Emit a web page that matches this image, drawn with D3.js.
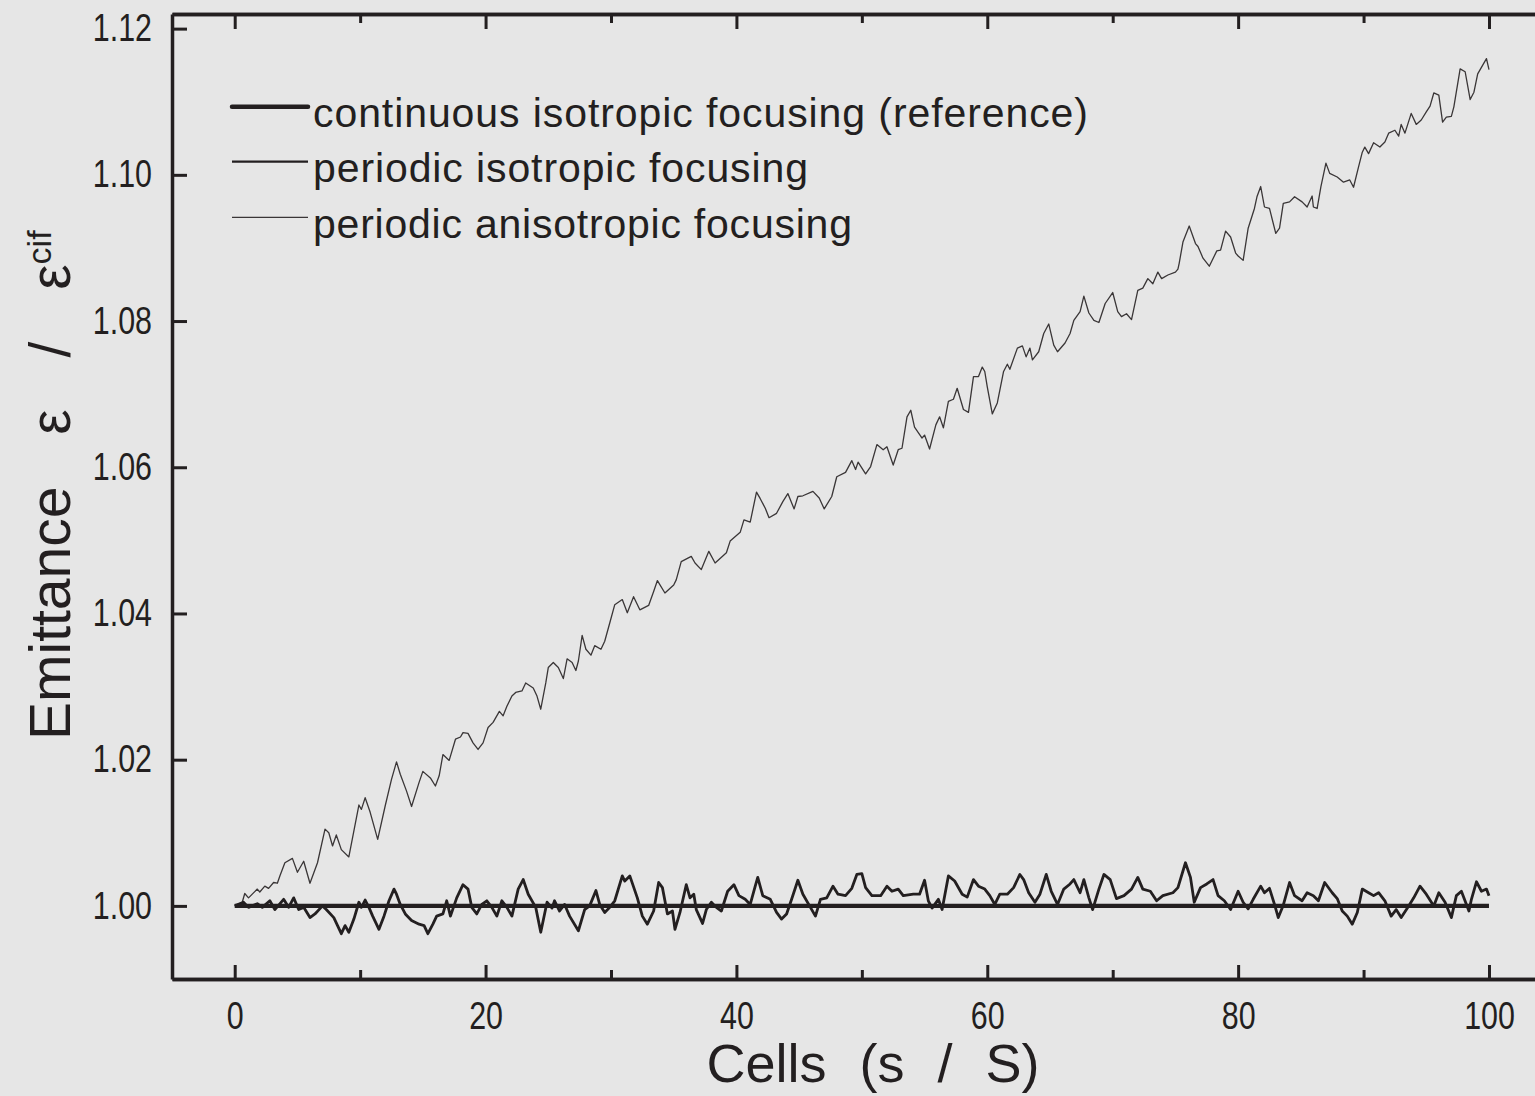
<!DOCTYPE html>
<html>
  <head>
    <meta charset="utf-8" />
    <script type="text/javascript" src="https://cdn.jsdelivr.net/npm/d3@7"></script>
    <style>
      body { margin: 0; background: #e6e6e6; }
      svg { display: block; }
      text { font-family: "Liberation Sans", Arial, sans-serif; fill: #231f20; }
    </style>
  </head>
  <body>
    <script type="text/javascript">
      // reference run: continuous isotropic focusing
      const refCells = [0, 100];
      const refValues = [1.0, 1.0];

      // periodic isotropic focusing
      const isoCells = [
        0.0, 0.7, 1.1, 1.8, 2.2, 2.8, 3.2, 3.9, 4.3, 4.7, 5.1, 5.5, 6.0, 6.4, 7.0, 7.3, 7.9, 8.5, 8.8, 9.1,
        9.5, 9.9, 10.1, 10.4, 10.7, 11.0, 11.5, 11.9, 12.3, 12.7, 12.9, 13.2, 13.6, 14.1, 14.7, 15.1, 15.4, 15.8, 16.1, 16.6,
        16.9, 17.2, 17.7, 18.2, 18.6, 18.9, 19.3, 19.7, 20.1, 20.5, 20.9, 21.3, 21.7, 22.1, 22.6, 23.0, 23.4, 24.0, 24.4, 24.9,
        25.3, 25.5, 25.9, 26.3, 26.7, 27.4, 27.9, 28.3, 28.8, 29.1, 29.5, 29.9, 30.3, 30.9, 31.1, 31.5, 32.1, 32.5, 32.9, 33.4,
        33.8, 34.1, 34.5, 34.9, 35.1, 35.5, 36.0, 36.3, 36.6, 36.8, 37.3, 37.6, 38.0, 38.4, 38.8, 39.3, 39.8, 40.2, 40.7, 41.1,
        41.5, 41.7, 42.1, 42.7, 43.2, 43.6, 44.0, 44.4, 44.9, 45.3, 45.9, 46.3, 46.7, 47.2, 47.7, 48.1, 48.7, 49.2, 49.6, 50.0,
        50.3, 50.8, 51.5, 52.0, 52.4, 52.9, 53.3, 54.1, 54.6, 55.0, 55.3, 55.6, 56.1, 56.4, 56.9, 57.4, 58.0, 58.4, 58.9, 59.3,
        59.8, 60.2, 60.6, 61.0, 61.6, 62.1, 62.6, 62.9, 63.3, 63.8, 64.2, 64.7, 65.1, 65.6, 66.1, 66.6, 66.9, 67.4, 67.7, 68.1,
        68.4, 68.9, 69.3, 69.8, 70.3, 70.9, 71.5, 72.0, 72.4, 73.0, 73.5, 74.0, 74.8, 75.2, 75.8, 76.2, 76.5, 77.0, 77.5, 78.0,
        78.4, 78.9, 79.4, 80.0, 80.4, 80.8, 81.2, 81.8, 82.1, 82.5, 82.9, 83.2, 83.6, 84.1, 84.5, 85.1, 85.5, 86.0, 86.4, 86.9,
        87.5, 87.9, 88.3, 88.7, 89.1, 89.5, 89.9, 90.4, 90.8, 91.2, 91.7, 92.2, 92.6, 93.0, 93.6, 94.0, 94.5, 95.0, 95.6, 96.0,
        96.5, 97.0, 97.4, 97.8, 98.4, 98.6, 99.0, 99.4, 99.8, 100.0
      ];
      const isoValues = [
        1.0000, 1.0005, 0.9998, 1.0003, 0.9998, 1.0007, 0.9995, 1.0009, 0.9998, 1.0011, 0.9995, 0.9998, 0.9984, 0.9989, 1.0000, 0.9995, 0.9984, 0.9962, 0.9973, 0.9964,
        0.9982, 1.0005, 0.9998, 1.0008, 0.9998, 0.9986, 0.9968, 0.9986, 1.0007, 1.0023, 1.0016, 1.0002, 0.9989, 0.9980, 0.9975, 0.9973, 0.9962, 0.9975, 0.9986, 0.9989,
        1.0007, 0.9986, 1.0011, 1.0029, 1.0023, 0.9998, 0.9989, 1.0002, 1.0007, 0.9998, 0.9986, 1.0007, 0.9998, 0.9986, 1.0023, 1.0036, 1.0016, 0.9998, 0.9964, 1.0005,
        0.9997, 1.0007, 0.9993, 1.0002, 0.9986, 0.9966, 0.9995, 1.0000, 1.0021, 1.0002, 0.9991, 0.9998, 1.0007, 1.0041, 1.0034, 1.0041, 1.0011, 0.9986, 0.9975, 0.9993,
        1.0032, 1.0025, 0.9989, 0.9993, 0.9968, 0.9991, 1.0029, 1.0011, 1.0016, 0.9995, 0.9976, 0.9995, 1.0005, 0.9998, 0.9993, 1.0020, 1.0029, 1.0014, 1.0009, 1.0002,
        1.0027, 1.0039, 1.0014, 1.0009, 0.9991, 0.9982, 0.9989, 1.0009, 1.0035, 1.0016, 0.9998, 0.9986, 1.0009, 1.0011, 1.0027, 1.0016, 1.0014, 1.0024, 1.0043, 1.0044,
        1.0025, 1.0014, 1.0014, 1.0027, 1.0020, 1.0023, 1.0014, 1.0016, 1.0016, 1.0035, 1.0007, 0.9997, 1.0009, 0.9995, 1.0041, 1.0034, 1.0016, 1.0012, 1.0036, 1.0027,
        1.0023, 1.0014, 1.0002, 1.0016, 1.0016, 1.0025, 1.0043, 1.0036, 1.0018, 1.0005, 1.0016, 1.0043, 1.0020, 1.0002, 1.0023, 1.0030, 1.0036, 1.0018, 1.0036, 1.0011,
        0.9995, 1.0023, 1.0043, 1.0036, 1.0010, 1.0014, 1.0023, 1.0039, 1.0023, 1.0020, 1.0007, 1.0014, 1.0018, 1.0025, 1.0059, 1.0039, 1.0005, 1.0025, 1.0030, 1.0036,
        1.0014, 1.0007, 0.9995, 1.0020, 1.0005, 0.9996, 1.0009, 1.0027, 1.0018, 1.0024, 1.0002, 0.9984, 1.0001, 1.0032, 1.0014, 1.0007, 1.0018, 1.0014, 1.0007, 1.0032,
        1.0018, 1.0010, 0.9993, 0.9986, 0.9975, 0.9991, 1.0023, 1.0018, 1.0014, 1.0018, 1.0007, 0.9986, 0.9995, 0.9984, 1.0000, 1.0011, 1.0027, 1.0016, 1.0000, 1.0018,
        1.0005, 0.9984, 1.0014, 1.0020, 0.9993, 1.0009, 1.0033, 1.0020, 1.0023, 1.0014
      ];

      // periodic anisotropic focusing
      const anisoCells = [
        0.0, 0.6, 0.8, 1.1, 1.8, 2.0, 2.4, 2.7, 3.1, 3.4, 3.6, 4.0, 4.6, 5.0, 5.5, 6.0, 6.6, 7.2, 7.5, 7.8,
        8.1, 8.5, 9.1, 9.9, 10.1, 10.4, 10.8, 11.4, 12.0, 12.5, 12.9, 13.2, 13.7, 14.1, 14.7, 15.0, 15.6, 16.0, 16.3, 16.6,
        17.1, 17.6, 18.0, 18.2, 18.6, 19.0, 19.4, 19.8, 20.2, 20.6, 21.1, 21.4, 21.7, 22.1, 22.4, 22.9, 23.2, 23.8, 24.1, 24.4,
        24.8, 25.0, 25.4, 25.8, 26.2, 26.5, 26.9, 27.2, 27.4, 27.7, 28.0, 28.4, 28.7, 29.2, 29.5, 29.9, 30.3, 30.9, 31.3, 31.8,
        32.3, 33.0, 33.4, 33.7, 34.3, 35.0, 35.2, 35.6, 36.4, 36.7, 37.2, 37.8, 38.3, 39.2, 39.5, 40.3, 40.6, 41.1, 41.6, 41.9,
        42.3, 42.6, 43.2, 43.7, 44.1, 44.6, 44.9, 45.3, 46.1, 46.6, 47.0, 47.6, 48.0, 48.7, 49.2, 49.5, 49.7, 50.3, 50.7, 51.2,
        51.7, 52.0, 52.5, 52.9, 53.2, 53.6, 53.9, 54.2, 54.8, 55.0, 55.4, 55.9, 56.2, 56.5, 56.9, 57.3, 57.6, 58.1, 58.5, 58.9,
        59.3, 59.6, 59.8, 60.0, 60.4, 60.8, 61.3, 61.6, 61.8, 62.4, 62.8, 63.1, 63.4, 63.6, 64.1, 64.5, 64.9, 65.3, 65.6, 66.2,
        66.6, 66.9, 67.4, 67.7, 68.1, 68.5, 68.9, 69.4, 70.0, 70.4, 70.7, 71.1, 71.5, 72.0, 72.4, 72.8, 73.2, 73.6, 73.9, 74.4,
        75.0, 75.2, 75.3, 75.6, 76.1, 76.6, 76.8, 77.2, 77.7, 78.3, 78.6, 79.0, 79.4, 79.8, 80.0, 80.4, 80.8, 81.3, 81.5, 81.8,
        82.1, 82.5, 83.0, 83.3, 83.6, 84.1, 84.5, 85.1, 85.5, 85.9, 86.0, 86.3, 86.6, 87.0, 87.3, 87.9, 88.4, 88.9, 89.2, 89.6,
        89.9, 90.1, 90.4, 90.8, 91.3, 91.7, 92.0, 92.5, 92.8, 93.0, 93.3, 93.8, 94.2, 94.6, 95.0, 95.3, 95.6, 96.0, 96.3, 96.6,
        97.0, 97.2, 97.7, 98.1, 98.5, 98.8, 99.1, 99.5, 99.8, 100.0
      ];
      const anisoValues = [
        1.0000, 1.0005, 1.0017, 1.0011, 1.0023, 1.0019, 1.0027, 1.0024, 1.0032, 1.0031, 1.0041, 1.0059, 1.0065, 1.0046, 1.0061, 1.0031, 1.0059, 1.0105, 1.0100, 1.0082,
        1.0097, 1.0077, 1.0067, 1.0138, 1.0132, 1.0148, 1.0128, 1.0091, 1.0137, 1.0173, 1.0197, 1.0180, 1.0157, 1.0136, 1.0169, 1.0184, 1.0175, 1.0164, 1.0178, 1.0207,
        1.0199, 1.0228, 1.0231, 1.0237, 1.0236, 1.0223, 1.0214, 1.0223, 1.0244, 1.0251, 1.0266, 1.0260, 1.0273, 1.0287, 1.0292, 1.0294, 1.0305, 1.0298, 1.0287, 1.0269,
        1.0305, 1.0326, 1.0333, 1.0326, 1.0311, 1.0338, 1.0333, 1.0322, 1.0335, 1.0370, 1.0351, 1.0343, 1.0356, 1.0351, 1.0362, 1.0387, 1.0412, 1.0419, 1.0401, 1.0423,
        1.0405, 1.0411, 1.0430, 1.0445, 1.0428, 1.0439, 1.0446, 1.0471, 1.0478, 1.0469, 1.0460, 1.0485, 1.0469, 1.0483, 1.0499, 1.0511, 1.0528, 1.0525, 1.0566, 1.0557,
        1.0544, 1.0531, 1.0537, 1.0553, 1.0564, 1.0543, 1.0560, 1.0561, 1.0567, 1.0558, 1.0543, 1.0560, 1.0587, 1.0593, 1.0609, 1.0597, 1.0607, 1.0591, 1.0601, 1.0631,
        1.0624, 1.0628, 1.0603, 1.0624, 1.0626, 1.0669, 1.0678, 1.0655, 1.0640, 1.0644, 1.0625, 1.0658, 1.0669, 1.0654, 1.0690, 1.0693, 1.0708, 1.0679, 1.0675, 1.0724,
        1.0724, 1.0737, 1.0731, 1.0710, 1.0673, 1.0688, 1.0731, 1.0741, 1.0734, 1.0763, 1.0766, 1.0751, 1.0763, 1.0747, 1.0758, 1.0783, 1.0796, 1.0767, 1.0758, 1.0770,
        1.0783, 1.0801, 1.0813, 1.0834, 1.0811, 1.0801, 1.0798, 1.0824, 1.0839, 1.0813, 1.0806, 1.0810, 1.0802, 1.0842, 1.0845, 1.0858, 1.0851, 1.0867, 1.0858, 1.0863,
        1.0867, 1.0871, 1.0879, 1.0908, 1.0930, 1.0906, 1.0902, 1.0886, 1.0875, 1.0896, 1.0897, 1.0923, 1.0915, 1.0893, 1.0889, 1.0883, 1.0927, 1.0954, 1.0970, 1.0984,
        1.0956, 1.0954, 1.0920, 1.0927, 1.0961, 1.0963, 1.0970, 1.0963, 1.0956, 1.0971, 1.0956, 1.0954, 1.0984, 1.1016, 1.1002, 1.0997, 1.0990, 1.0993, 1.0983, 1.1011,
        1.1031, 1.1038, 1.1029, 1.1044, 1.1038, 1.1045, 1.1057, 1.1061, 1.1053, 1.1069, 1.1057, 1.1084, 1.1069, 1.1075, 1.1086, 1.1094, 1.1112, 1.1109, 1.1072, 1.1079,
        1.1080, 1.1093, 1.1145, 1.1141, 1.1103, 1.1113, 1.1138, 1.1150, 1.1159, 1.1144
      ];

      const majorX = [0, 20, 40, 60, 80, 100];
      const minorX = [10, 30, 50, 70, 90];
      const yTicks = [1.0, 1.02, 1.04, 1.06, 1.08, 1.1, 1.12];

      const series = [
        { name: "continuous isotropic focusing (reference)", cells: refCells, values: refValues, width: 4.2, legendWidth: 4.5, color: "#231f20", textLen: 775 },
        { name: "periodic isotropic focusing", cells: isoCells, values: isoValues, width: 2.8, legendWidth: 2.2, color: "#231f20", textLen: 495 },
        { name: "periodic anisotropic focusing", cells: anisoCells, values: anisoValues, width: 1.3, legendWidth: 1.2, color: "#3a3637", textLen: 539 }
      ];

      const W = 1535, H = 1096;
      const svg = d3.select("body").append("svg").attr("width", W).attr("height", H);

      const x = d3.scaleLinear().domain([-5, 105]).range([172, 1551.7]);
      const y = d3.scaleLinear().domain([0.99, 1.122]).range([979, 14]);

      // tick digits in the original are narrow, so squeeze them a bit
      const squeeze = 0.8;

      function styleAxis(g, tickW) {
        g.select(".domain").attr("stroke", "#231f20").attr("stroke-width", 3.5);
        g.selectAll(".tick line").attr("stroke", "#231f20").attr("stroke-width", tickW);
        g.selectAll(".tick text").attr("fill", "#231f20").style("font-size", "38px")
          .attr("transform", "scale(" + squeeze + ",1)");
      }

      // bottom axis
      const xb = svg.append("g").attr("transform", "translate(0,979)")
        .call(d3.axisBottom(x).tickValues(majorX).tickSizeInner(-14).tickSizeOuter(0).tickPadding(23).tickFormat(d3.format("d")));
      styleAxis(xb, 3);
      const xbm = svg.append("g").attr("transform", "translate(0,979)")
        .call(d3.axisBottom(x).tickValues(minorX).tickSizeInner(-9).tickSizeOuter(0).tickFormat(""));
      styleAxis(xbm, 3);

      // top axis
      const xt = svg.append("g").attr("transform", "translate(0,14)")
        .call(d3.axisTop(x).tickValues(majorX).tickSizeInner(-15).tickSizeOuter(0).tickFormat(""));
      styleAxis(xt, 3);
      const xtm = svg.append("g").attr("transform", "translate(0,14)")
        .call(d3.axisTop(x).tickValues(minorX).tickSizeInner(-9).tickSizeOuter(0).tickFormat(""));
      styleAxis(xtm, 3);

      // left axis
      const yl = svg.append("g").attr("transform", "translate(172,0)")
        .call(d3.axisLeft(y).tickValues(yTicks).tickSizeInner(-15).tickSizeOuter(0).tickPadding(20 / squeeze).tickFormat(d3.format(".2f")));
      styleAxis(yl, 3);

      // curves
      const line = d3.line().x(d => x(d[0])).y(d => y(d[1]));
      series.slice().reverse().forEach(function (s) {
        const pts = s.cells.map((c, i) => [c, s.values[i]]);
        svg.append("path").datum(pts)
          .attr("d", line)
          .attr("fill", "none")
          .attr("stroke", s.color)
          .attr("stroke-width", s.width)
          .attr("stroke-linejoin", "round");
      });

      // legend
      const legendY = [106.7, 161.7, 217.3];
      series.forEach(function (s, i) {
        svg.append("line")
          .attr("x1", 232).attr("x2", 308)
          .attr("y1", legendY[i]).attr("y2", legendY[i])
          .attr("stroke", s.color).attr("stroke-width", s.legendWidth)
          .attr("stroke-linecap", i === 0 ? "round" : "butt");
        svg.append("text")
          .attr("x", 313).attr("y", legendY[i] + 20.5)
          .attr("textLength", s.textLen).attr("lengthAdjust", "spacing")
          .style("font-size", "41px")
          .text(s.name);
      });

      // axis titles
      svg.append("text")
        .attr("x", 873).attr("y", 1082)
        .attr("text-anchor", "middle")
        .style("font-size", "54px").style("word-spacing", "18px")
        .text("Cells (s / S)");

      const yt = svg.append("text")
        .attr("transform", "translate(70,740) rotate(-90)")
        .style("font-size", "57px").style("word-spacing", "36px");
      yt.append("tspan").text("Emittance ε / ε");
      yt.append("tspan").attr("dy", -19).style("font-size", "34px").text("cif");
    </script>
  </body>
</html>
